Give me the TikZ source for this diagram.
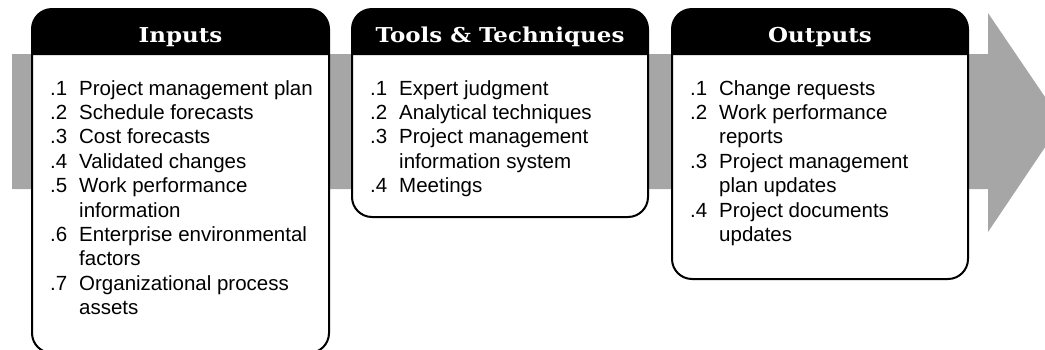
\documentclass[tikz,border=0pt]{standalone}
\usepackage{fontspec}
\setmainfont{Liberation Sans}
\newfontfamily\headfont{DejaVu Serif}[BoldFont={DejaVu Serif Bold}, BoldFeatures={FakeStretch=1.12}]
\definecolor{flowgray}{RGB}{166,166,166}
\tikzset{
  boxbody/.style={draw=black, line width=2pt, fill=white, rounded corners=20pt},
  boxhead/.style={fill=black},
  headtext/.style={text=white, anchor=base, inner sep=0pt, font=\headfont\bfseries\fontsize{20.5}{24}\selectfont},
  listtext/.style={anchor=base west, inner sep=0pt, font=\fontsize{20.5}{24.4}\selectfont},
}
\newcommand{\itm}[1]{\makebox[29pt][l]{#1}}
\begin{document}
\begin{tikzpicture}[x=1pt,y=-1pt]
\useasboundingbox (0,0) rectangle (1045,349);
% flow arrow
\fill[flowgray] (12,54) -- (988,54) -- (988,13) -- (1062,122) -- (988,232) -- (988,189) -- (12,189) -- cycle;
% Inputs box
\draw[boxbody] (32,9) rectangle (329,353);
\fill[boxhead] (32,55) [rounded corners=20pt]-- (32,9) -- (329,9) [sharp corners]-- (329,55) -- cycle;
% Tools box
\draw[boxbody] (352,9) rectangle (648,217);
\fill[boxhead] (352,55) [rounded corners=20pt]-- (352,9) -- (648,9) [sharp corners]-- (648,55) -- cycle;
% Outputs box
\draw[boxbody] (672,9) rectangle (968,279);
\fill[boxhead] (672,55) [rounded corners=20pt]-- (672,9) -- (968,9) [sharp corners]-- (968,55) -- cycle;
% headers
\node[headtext] (inhead) at (180.5,42) {Inputs};
\node[headtext] (toolhead) at (500,42) {Tools \& Techniques};
\node[headtext] (outhead) at (820,42) {Outputs};
% lists
\node[listtext] (inlist) at (50,95) {\begin{tabular}[t]{@{}l@{}}
\itm{.1}Project management plan\\
\itm{.2}Schedule forecasts\\
\itm{.3}Cost forecasts\\
\itm{.4}Validated changes\\
\itm{.5}Work performance\\
\itm{}information\\
\itm{.6}Enterprise environmental\\
\itm{}factors\\
\itm{.7}Organizational process\\
\itm{}assets
\end{tabular}};
\node[listtext] (toollist) at (370,95) {\begin{tabular}[t]{@{}l@{}}
\itm{.1}Expert judgment\\
\itm{.2}Analytical techniques\\
\itm{.3}Project management\\
\itm{}information system\\
\itm{.4}Meetings
\end{tabular}};
\node[listtext] (outlist) at (690,95) {\begin{tabular}[t]{@{}l@{}}
\itm{.1}Change requests\\
\itm{.2}Work performance\\
\itm{}reports\\
\itm{.3}Project management\\
\itm{}plan updates\\
\itm{.4}Project documents\\
\itm{}updates
\end{tabular}};
\end{tikzpicture}
\end{document}
